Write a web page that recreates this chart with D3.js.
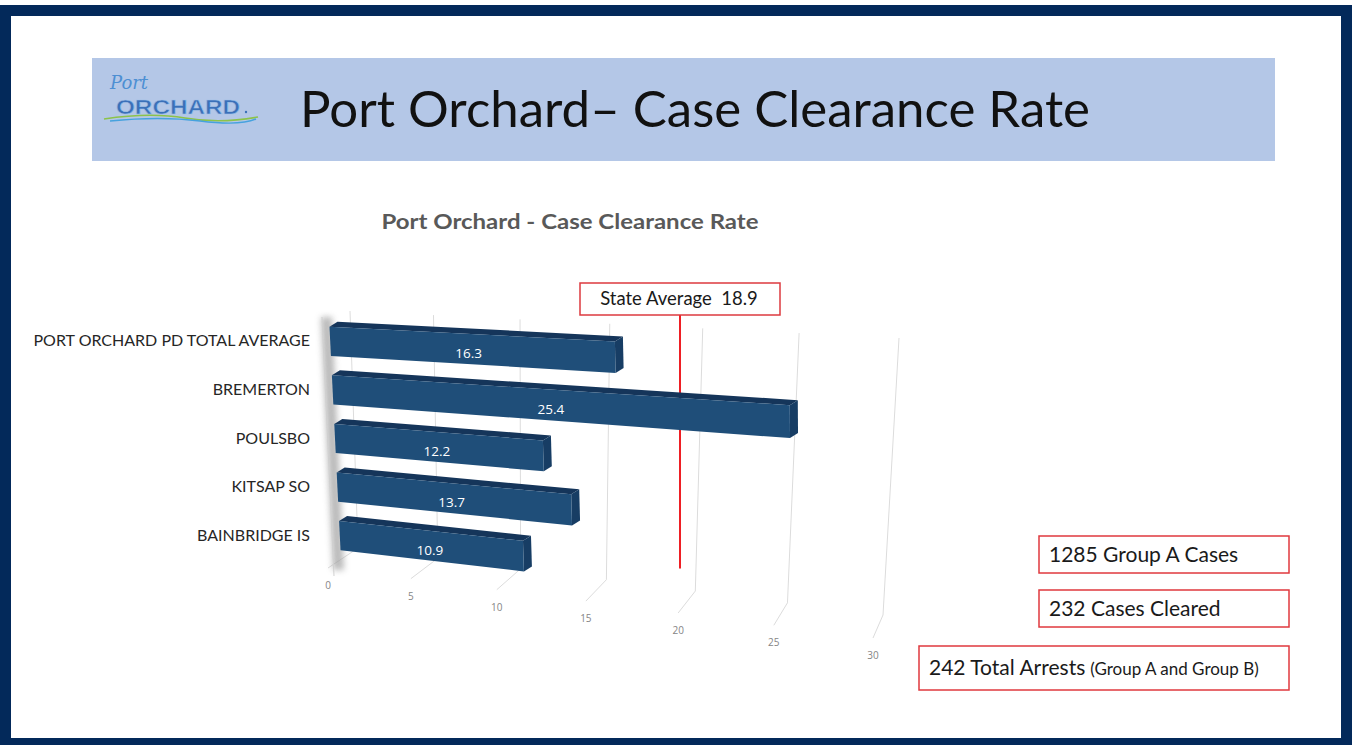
<!DOCTYPE html>
<html>
<head>
<meta charset="utf-8">
<script src="https://cdn.jsdelivr.net/npm/d3@7"></script>
<style>
  body { margin: 0; background: #fff; }
  svg { display: block; }
</style>
</head>
<body>
<div id="chart"></div>
<script>
// chart data
const categories = ["PORT ORCHARD PD TOTAL AVERAGE", "BREMERTON", "POULSBO", "KITSAP SO", "BAINBRIDGE IS"];
const rates = [16.3, 25.4, 12.2, 13.7, 10.9];
const tickValues = [0, 5, 10, 15, 20, 25, 30];
const stateAverage = 18.9;
const factMain = ["1285 Group A Cases", "232 Cases Cleared", "242 Total Arrests"];
const factNote = ["", "", "(Group A and Group B)"];

const W = 1352, H = 745;
const svg = d3.select("#chart").append("svg").attr("width", W).attr("height", H);
const defs = svg.append("defs");
defs.append("filter").attr("id", "blur").attr("x", "-50%").attr("width", "200%")
  .append("feGaussianBlur").attr("stdDeviation", 3);

// slide frame
svg.append("rect").attr("x", 0).attr("y", 5).attr("width", W).attr("height", H - 5).attr("fill", "#03295a");
svg.append("rect").attr("x", 11).attr("y", 16).attr("width", 1330).attr("height", 722).attr("fill", "#fff");

// banner
svg.append("rect").attr("x", 92).attr("y", 58).attr("width", 1183).attr("height", 103).attr("fill", "#b4c7e7");
svg.append("text").attr("x", 300).attr("y", 127)
  .attr("font-family", "Lato, 'Open Sans', sans-serif").attr("font-size", 50)
  .attr("textLength", 790).attr("lengthAdjust", "spacingAndGlyphs")
  .attr("fill", "#111").text("Port Orchard\u2013 Case Clearance Rate");

// logo
var logo = svg.append("g");
logo.append("text").attr("x", 110).attr("y", 89)
  .attr("font-family", "'DejaVu Serif', serif").attr("font-style", "italic").attr("font-size", 18)
  .attr("fill", "#4d8fd3").text("Port");
logo.append("text").attr("x", 116).attr("y", 114)
  .attr("font-family", "'Liberation Sans', Arial, sans-serif").attr("font-weight", "bold").attr("font-size", 21)
  .attr("textLength", 124).attr("lengthAdjust", "spacingAndGlyphs")
  .attr("fill", "#3b70b8").attr("stroke", "#9fc0e8").attr("stroke-width", 0.6).text("ORCHARD");
logo.append("circle").attr("cx", 246).attr("cy", 112).attr("r", 1.2).attr("fill", "#3b70b8");
logo.append("path").attr("d", "M104,119 Q150,112 185,118 T258,117").attr("fill", "none").attr("stroke", "#8cc34b").attr("stroke-width", 1.6);
logo.append("path").attr("d", "M110,121 Q160,116 200,121 T256,119").attr("fill", "none").attr("stroke", "#46a2de").attr("stroke-width", 1.4);

// chart title
svg.append("text").attr("x", 570).attr("y", 229).attr("text-anchor", "middle")
  .attr("font-family", "Lato, 'Open Sans', sans-serif").attr("font-weight", "bold").attr("font-size", 21)
  .attr("textLength", 377).attr("lengthAdjust", "spacingAndGlyphs")
  .attr("fill", "#595959").text("Port Orchard - Case Clearance Rate");

// --- perspective helpers ---
// value -> 0..1 along the axis, spacing grows to the right (perspective)
const norm = d3.scaleLinear().domain([0, 30]).range([0, 1]);
const growth = 1.24;
function u(v) { return (Math.pow(growth, norm(v)) - 1) / (growth - 1); }

// bilinear map of unit square onto a quad
function quad(p00, p10, p01, p11) {
  return function (s, t) {
    return [
      (1 - s) * (1 - t) * p00[0] + s * (1 - t) * p10[0] + (1 - s) * t * p01[0] + s * t * p11[0],
      (1 - s) * (1 - t) * p00[1] + s * (1 - t) * p10[1] + (1 - s) * t * p01[1] + s * t * p11[1]
    ];
  };
}
const front = quad([329, 317], [882, 344], [341, 560], [882, 624]);   // bar front faces
const wall = quad([350, 311], [899, 338], [358, 548], [883, 615]);    // back wall, t=0 top
const floor = quad([358, 548], [883, 615], [328, 568], [873, 638]);   // t=0 back, t=1 front

const band = d3.scaleBand().domain(categories).range([0, 1]).paddingInner(0.4).paddingOuter(0.2);
const depth = [8, -5];

// gridlines on the wall + floor lines
var grid = svg.append("g").attr("stroke", "#dcdcdc").attr("stroke-width", 1).attr("fill", "none");
tickValues.forEach(function (v) {
  var a = wall(u(v), 0), b = wall(u(v), 1), c = floor(u(v), 1);
  grid.append("path").attr("d", "M" + a + "L" + b + "L" + c);
});

// tick labels
svg.append("g").selectAll("text").data(tickValues).join("text")
  .attr("x", function (v) { return floor(u(v), 1)[0]; })
  .attr("y", function (v) { return floor(u(v), 1)[1] + 21; })
  .attr("text-anchor", "middle").attr("font-family", "'Open Sans', sans-serif").attr("font-size", 10)
  .attr("fill", "#858585").text(function (d) { return d; });

// left side shading
var l0 = front(0, 0), l1 = front(0, 1);
svg.append("path")
  .attr("d", "M" + [l0[0] - 8, l0[1]] + "L" + [l0[0] + 3, l0[1]] + "L" + [l1[0] + 3, l1[1] + 10] + "L" + [l1[0] - 8, l1[1] + 10] + "Z")
  .attr("fill", "#9c9c9c").attr("opacity", 0.7).attr("filter", "url(#blur)");
svg.append("path").attr("d", "M" + [l0[0] - 7, l0[1]] + "L" + [l1[0] - 7, l1[1] + 16])
  .attr("stroke", "#d0d0d0").attr("fill", "none");

// state average line (sits behind the bars)
var avgX = wall(u(stateAverage), 0)[0] - 2;
var avgBottom = wall(u(stateAverage), 1)[1] - 20;
svg.append("line").attr("x1", avgX).attr("x2", avgX).attr("y1", 315).attr("y2", avgBottom)
  .attr("stroke", "#ee1f24").attr("stroke-width", 2);

// bars
function pt(p) { return p[0] + "," + p[1]; }
function add(p) { return [p[0] + depth[0], p[1] + depth[1]]; }
var bars = svg.append("g").selectAll("g").data(rates).join("g");
bars.each(function (v, i) {
  var g = d3.select(this);
  var t0 = band(categories[i]), t1 = t0 + band.bandwidth();
  var a = front(0, t0), b = front(u(v), t0), c = front(u(v), t1), d = front(0, t1);
  g.append("polygon").attr("points", [a, b, add(b), add(a)].map(pt).join(" ")).attr("fill", "#15355a");
  g.append("polygon").attr("points", [b, add(b), add(c), c].map(pt).join(" ")).attr("fill", "#173d64");
  g.append("polygon").attr("points", [a, b, c, d].map(pt).join(" ")).attr("fill", "#1f4e79");
  var m = front(u(v / 2), (t0 + t1) / 2);
  g.append("text").attr("x", m[0]).attr("y", m[1] + 9).attr("text-anchor", "middle")
    .attr("font-family", "'Open Sans', sans-serif").attr("font-size", 13.5).attr("fill", "#fff").text(v);
});

// category labels
svg.append("g").selectAll("text").data(categories).join("text")
  .attr("x", 310)
  .attr("y", function (d) { return front(0, band(d) + band.bandwidth() / 2)[1] + 5; })
  .attr("text-anchor", "end").attr("font-family", "Lato, sans-serif").attr("font-size", 16)
  .attr("fill", "#262626").text(function (d) { return d; });

// state average box
svg.append("rect").attr("x", 580).attr("y", 283).attr("width", 200).attr("height", 32)
  .attr("fill", "#fff").attr("stroke", "#dd3a3f").attr("stroke-width", 1.5);
svg.append("text").attr("x", 679).attr("y", 305).attr("text-anchor", "middle")
  .attr("font-family", "Lato, sans-serif").attr("font-size", 18.5).attr("fill", "#1a1a1a")
  .attr("xml:space", "preserve").text("State Average  " + stateAverage);

// fact boxes
const boxX = [1039, 1039, 919], boxY = [536, 590, 646], boxW = [250, 250, 370], boxH = [37, 37, 44];
factMain.forEach(function (s, i) {
  svg.append("rect").attr("x", boxX[i]).attr("y", boxY[i]).attr("width", boxW[i]).attr("height", boxH[i])
    .attr("fill", "#fff").attr("stroke", "#e0393e").attr("stroke-width", 1.5);
  var t = svg.append("text").attr("x", boxX[i] + 10).attr("y", boxY[i] + boxH[i] / 2 + 7)
    .attr("font-family", "Lato, sans-serif").attr("font-size", 21).attr("fill", "#1a1a1a");
  t.append("tspan").text(s);
  if (factNote[i]) t.append("tspan").attr("font-size", 17).attr("dx", 5).text(factNote[i]);
});
</script>
</body>
</html>
